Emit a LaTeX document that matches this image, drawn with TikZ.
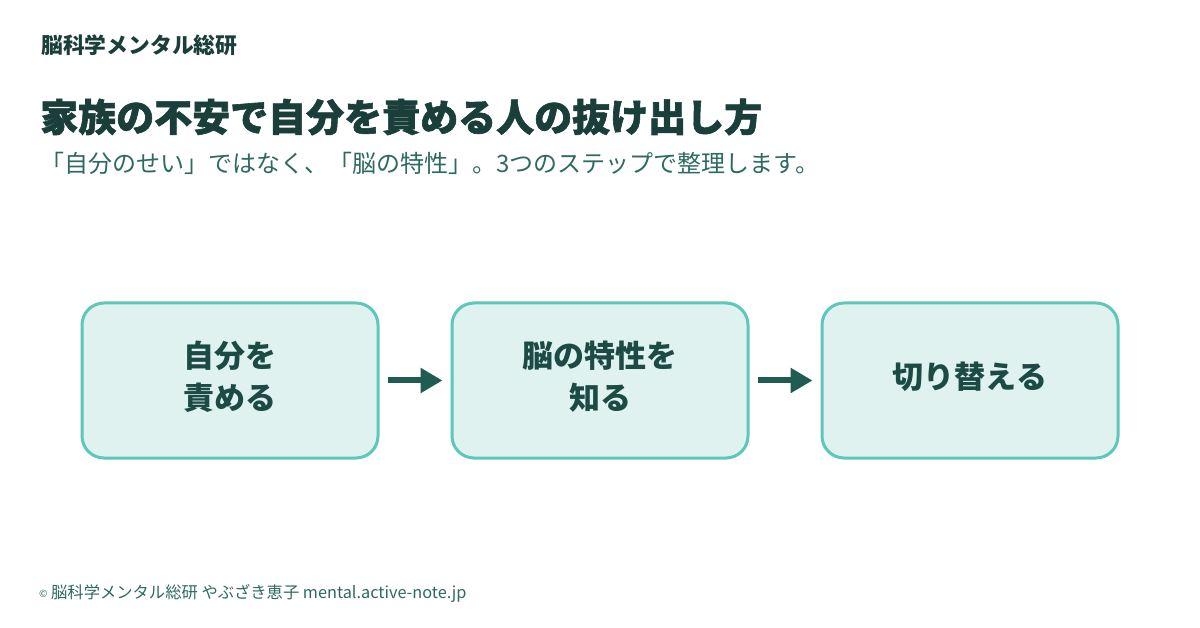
\documentclass[tikz,border=0pt]{standalone}
\usepackage{fontspec}
\setmainfont{Noto Sans CJK JP}
\newfontfamily\heavyfont{Noto Sans CJK JP}[BoldFeatures={FakeBold=1.6}]
\usetikzlibrary{arrows.meta}
\definecolor{ink}{HTML}{1A3F3A}
\definecolor{sub}{HTML}{2E6A61}
\definecolor{boxline}{HTML}{5EC7B9}
\definecolor{boxfill}{HTML}{DFF2F0}
\definecolor{arrowc}{HTML}{205C52}
\definecolor{boxtext}{HTML}{1C4A44}
\tikzset{
  x=1pt,y=-1pt,
  stepbox/.style={draw=boxline,line width=3pt,fill=boxfill,rounded corners=22pt,minimum width=296pt,minimum height=155pt,inner sep=0pt},
  boxlabel/.style={text=boxtext,font=\fontsize{31}{42}\selectfont\bfseries,align=center},
  flow/.style={draw=arrowc,line width=6pt,-{Triangle[length=22pt,width=24pt]},shorten <=8pt,shorten >=8pt}
}
\begin{document}
\begin{tikzpicture}
\useasboundingbox (0,0) rectangle (1200,628);
\fill[white] (0,0) rectangle (1200,628);
\node[anchor=west,inner sep=0pt,text=ink,font=\fontsize{21.8}{26}\selectfont\bfseries] (brand) at (41,45) {脳科学メンタル総研};
\node[anchor=west,inner sep=0pt,text=ink,font=\heavyfont\fontsize{38}{44}\selectfont\bfseries] (title) at (40,117) {家族の不安で自分を責める人の抜け出し方};
\node[anchor=west,inner sep=0pt,text=sub,font=\fontsize{24}{28}\selectfont] (subtitle) at (40,163) {「自分のせい」ではなく、「脳の特性」。3つのステップで整理します。};
\node[stepbox] (b1) at (230,380.5) {};
\node[stepbox] (b2) at (600,380.5) {};
\node[stepbox] (b3) at (970,380.5) {};
\node[boxlabel] (t1) at (230,377) {自分を\\責める};
\node[boxlabel] (t2) at (600,377) {脳の特性を\\知る};
\node[boxlabel] (t3) at (970,377) {切り替える};
\draw[flow] (b1.east) -- (b2.west);
\draw[flow] (b2.east) -- (b3.west);
\node[anchor=west,inner sep=0pt,text=sub,font=\fontsize{16.3}{18}\selectfont] (footer) at (39,593) {\raisebox{1pt}{\fontsize{10}{12}\selectfont ©} 脳科学メンタル総研 やぶざき恵子 mental.active-note.jp};
\end{tikzpicture}
\end{document}
